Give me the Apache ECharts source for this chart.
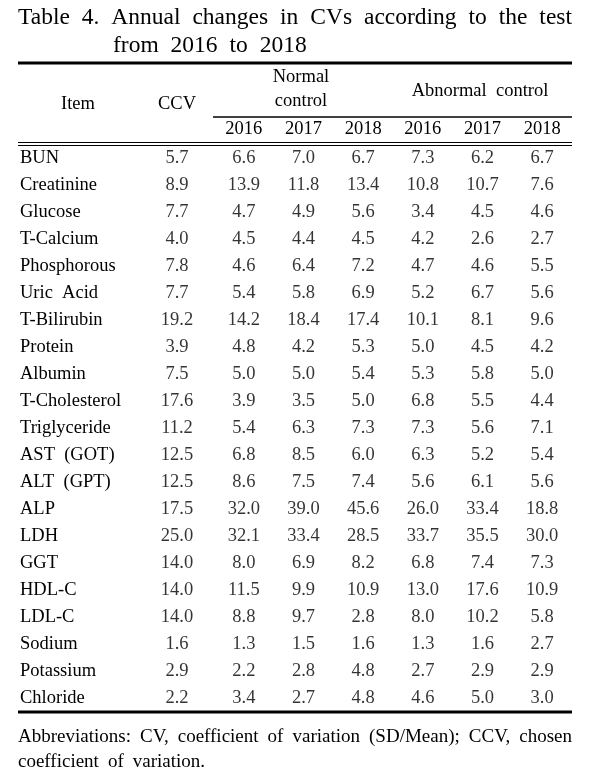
<!DOCTYPE html>
<html><head><meta charset="utf-8">
<script src="https://cdn.jsdelivr.net/npm/echarts@6/dist/echarts.min.js"></script>
<style>html,body{margin:0;padding:0;background:#fff}#c{width:591px;height:775px}</style>
</head><body><div id="c"></div>
<script>
const titleLine1 = ['Table','4.','Annual','changes','in','CVs','according','to','the','test'];
const titleLine2 = ['from','2016','to','2018'];
const footLine1 = ['Abbreviations:','CV,','coefficient','of','variation','(SD/Mean);','CCV,','chosen'];
const footLine2 = ['coefficient','of','variation.'];
const groupNormal = ['Normal','control'];
const groupAbnormal = 'Abnormal  control';
const itemHeader = 'Item';
const ccvHeader = ['CCV'];
const yearLabels = ['2016','2017','2018','2016','2017','2018'];
const items = ['BUN','Creatinine','Glucose','T-Calcium','Phosphorous','Uric  Acid','T-Bilirubin','Protein','Albumin','T-Cholesterol','Triglyceride','AST  (GOT)','ALT  (GPT)','ALP','LDH','GGT','HDL-C','LDL-C','Sodium','Potassium','Chloride'];
const ccv          = [5.7,8.9,7.7,4.0,7.8,7.7,19.2,3.9,7.5,17.6,11.2,12.5,12.5,17.5,25.0,14.0,14.0,14.0,1.6,2.9,2.2];
const normal2016   = [6.6,13.9,4.7,4.5,4.6,5.4,14.2,4.8,5.0,3.9,5.4,6.8,8.6,32.0,32.1,8.0,11.5,8.8,1.3,2.2,3.4];
const normal2017   = [7.0,11.8,4.9,4.4,6.4,5.8,18.4,4.2,5.0,3.5,6.3,8.5,7.5,39.0,33.4,6.9,9.9,9.7,1.5,2.8,2.7];
const normal2018   = [6.7,13.4,5.6,4.5,7.2,6.9,17.4,5.3,5.4,5.0,7.3,6.0,7.4,45.6,28.5,8.2,10.9,2.8,1.6,4.8,4.8];
const abnormal2016 = [7.3,10.8,3.4,4.2,4.7,5.2,10.1,5.0,5.3,6.8,7.3,6.3,5.6,26.0,33.7,6.8,13.0,8.0,1.3,2.7,4.6];
const abnormal2017 = [6.2,10.7,4.5,2.6,4.6,6.7,8.1,4.5,5.8,5.5,5.6,5.2,6.1,33.4,35.5,7.4,17.6,10.2,1.6,2.9,5.0];
const abnormal2018 = [6.7,7.6,4.6,2.7,5.5,5.6,9.6,4.2,5.0,4.4,7.1,5.4,5.6,18.8,30.0,7.3,10.9,5.8,2.7,2.9,3.0];

const yearCols = [normal2016, normal2017, normal2018, abnormal2016, abnormal2017, abnormal2018];

const FF = '"Liberation Serif", "Times New Roman", serif';
const BODY = 18.5, TITLE = 23.5, FOOT = 19;
const L = 18, R = 572;

const ctx = document.createElement('canvas').getContext('2d');
function justify(words, size, x0, x1) {
  ctx.font = size + 'px ' + FF;
  const ws = words.map(w => ctx.measureText(w).width);
  const total = ws.reduce((a, b) => a + b, 0);
  return (x1 - x0 - total) / (words.length - 1);
}
function place(words, size, x0, gap, y) {
  ctx.font = size + 'px ' + FF;
  let x = x0;
  return words.map(w => {
    const el = { type: 'text', x: x, y: y, silent: true,
      style: { text: w, font: size + 'px ' + FF, fill: '#000', textAlign: 'left', textVerticalAlign: 'middle' } };
    x += ctx.measureText(w).width + gap;
    return el;
  });
}
const tGap = justify(titleLine1, TITLE, L, R);
const fGap = justify(footLine1, FOOT, L, R);

function txt(t, x, y, size, align) {
  return { type: 'text', x: x, y: y, silent: true,
    style: { text: t, font: size + 'px ' + FF, fill: '#000', textAlign: align || 'center', textVerticalAlign: 'middle' } };
}
function hline(x1, x2, y, w) {
  return { type: 'line', silent: true, shape: { x1: x1, y1: y, x2: x2, y2: y }, style: { stroke: '#000', lineWidth: w } };
}

const graphics = []
  .concat(place(titleLine1, TITLE, L, tGap, 18))
  .concat(place(titleLine2, TITLE, 113, tGap, 46))
  .concat(place(footLine1, FOOT, L, fGap, 737))
  .concat(place(footLine2, FOOT, L, fGap, 762))
  .concat([
    hline(L, R, 63, 3),
    hline(213, R, 117, 1.3),
    hline(L, R, 142.5, 1),
    hline(L, R, 145.5, 1),
    hline(L, R, 712, 3),
    txt(groupNormal[0], 301, 77, BODY),
    txt(groupNormal[1], 301, 101, BODY),
    txt(groupAbnormal, 480, 91, BODY),
    txt(itemHeader, 78, 104, BODY)
  ]);

const GT = 144.5, GH = 567;
const labelStyle = { show: true, position: 'inside', color: '#000', fontFamily: FF, fontSize: BODY,
  formatter: p => p.value[2].toFixed(1) };

const series = [{
  type: 'scatter', xAxisIndex: 0, yAxisIndex: 0, symbolSize: 1, itemStyle: { color: 'rgba(0,0,0,0)' },
  label: labelStyle, silent: true,
  data: ccv.map((v, i) => [0, i, v])
}];
yearCols.forEach((col, c) => {
  series.push({
    type: 'scatter', xAxisIndex: 1, yAxisIndex: 1, symbolSize: 1, itemStyle: { color: 'rgba(0,0,0,0)' },
    label: labelStyle, silent: true,
    data: col.map((v, i) => [c, i, v])
  });
});

const chart = echarts.init(document.getElementById('c'), null, { renderer: 'canvas' });
chart.setOption({
  backgroundColor: '#fff',
  animation: false,
  grid: [
    { left: 147, width: 60, top: GT, height: GH },
    { left: 214, right: 591 - R, top: GT, height: GH }
  ],
  xAxis: [
    { type: 'category', gridIndex: 0, position: 'top', data: ccvHeader,
      axisLine: { show: false }, axisTick: { show: false }, splitLine: { show: false },
      axisLabel: { margin: 31, color: '#000', fontFamily: FF, fontSize: BODY } },
    { type: 'category', gridIndex: 1, position: 'top', data: yearLabels,
      axisLine: { show: false }, axisTick: { show: false }, splitLine: { show: false },
      axisLabel: { margin: 6, color: '#000', fontFamily: FF, fontSize: BODY, interval: 0 } }
  ],
  yAxis: [
    { type: 'category', gridIndex: 0, inverse: true, data: items,
      axisLine: { show: false }, axisTick: { show: false }, splitLine: { show: false },
      axisLabel: { align: 'left', margin: 147 - 20, color: '#000', fontFamily: FF, fontSize: BODY, interval: 0 } },
    { type: 'category', gridIndex: 1, inverse: true, data: items,
      axisLine: { show: false }, axisTick: { show: false }, splitLine: { show: false },
      axisLabel: { show: false } }
  ],
  graphic: graphics,
  series: series
});
</script></body></html>
